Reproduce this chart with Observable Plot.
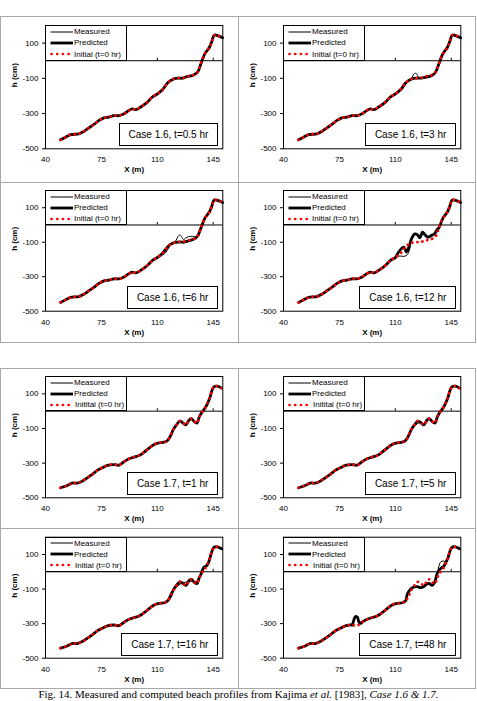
<!DOCTYPE html>
<html>
<head>
<meta charset="utf-8">
<script src="https://cdn.jsdelivr.net/npm/d3@7"></script>
<script src="https://cdn.jsdelivr.net/npm/@observablehq/plot@0.6"></script>
<style>
  html, body { margin: 0; padding: 0; width: 477px; height: 701px; overflow: hidden; background: #fff; }
  body { position: relative; font-family: "Liberation Sans", Arial, sans-serif; }
  .cell { position: absolute; border: 1px solid #a8a8a8; box-sizing: border-box; }
  .chart { position: absolute; }
  .chart svg { display: block; overflow: visible; }
  .legend { position: absolute; box-sizing: border-box; border: 1px solid #000; background: #fff;
            display: flex; flex-direction: column; font-family: "Liberation Sans", Arial, sans-serif;
            font-size: 8px; color: #000; }
  .legend .row { flex: 1; display: flex; align-items: center; white-space: nowrap; }
  .legend svg { display: block; flex: none; }
  .casebox { position: absolute; box-sizing: border-box; border: 1px solid #000; background: #fff;
             font-family: "Liberation Sans", Arial, sans-serif;
             font-size: 10px; color: #000; white-space: nowrap; padding: 0 9px; text-align: center; }
  .caption { position: absolute; left: 0; width: 477px; text-align: center;
             font-family: "Liberation Serif", "Times New Roman", serif; font-size: 11px; line-height: 13px; color: #000; white-space: nowrap; }
</style>
</head>
<body>
<script>
// ---------------- data ----------------
const xTicks = [40, 75, 110, 145];
const yTicks = [100, -100, -300, -500];
const xDomain = [40, 151];
const yDomain = [-500, 200];

const seriesNames = ["Measured", "Predicted"];
const initialName16 = "Initial (t=0 hr)";
const initialName17a = "Initital (t=0 hr)";
const initialName17b = "Initial (t=0 hr)";

// Initial profile, Case 1.6 (X in m, h in cm)
const init16X = [49.4,52.6,55.7,60.9,64.1,67.2,70.3,73.5,76.6,79.7,82.9,86.0,89.2,92.3,94.4,96.5,99.6,103.8,106.9,110.1,113.2,116.4,119.5,122.6,125.8,128.9,132.0,135.2,137.3,139.8,142.5,144.0,145.6,147.7,150.9];
const init16H = [-449,-434,-420,-415,-401,-381,-362,-339,-324,-320,-312,-312,-301,-282,-273,-278,-263,-235,-206,-188,-165,-127,-106,-99,-99,-89,-84,-65,-17,40,74,106,145,143,130];

// Initial profile, Case 1.7
const init17X = [49.4,53.6,56.7,59.9,63.0,66.1,69.3,72.4,75.6,78.7,82.9,86.0,89.2,92.3,95.4,98.6,101.7,104.9,108.0,111.1,114.3,116.4,118.4,119.9,122.0,124.1,126.2,127.9,130.0,131.4,133.1,134.8,136.2,137.9,140.0,141.5,142.9,144.2,145.6,147.7,150.2];
const init17H = [-442,-429,-415,-415,-404,-385,-365,-342,-327,-313,-308,-312,-292,-275,-265,-256,-237,-213,-192,-183,-179,-169,-140,-108,-79,-58,-69,-79,-50,-44,-60,-69,-35,-6,19,46,77,119,142,144,133];

const panelTitles = ["Case 1.6, t=0.5 hr","Case 1.6, t=3 hr","Case 1.6, t=6 hr","Case 1.6, t=12 hr",
                     "Case 1.7, t=1 hr","Case 1.7, t=5 hr","Case 1.7, t=16 hr","Case 1.7, t=48 hr"];
const panelCases = ["1.6","1.6","1.6","1.6","1.7","1.7","1.7","1.7"];
const panelInitialNames = [initialName16, initialName16, initialName16, initialName16,
                           initialName17a, initialName17a, initialName17b, initialName17b];

// Measured / predicted: read as identical to the initial profile except in these stretches [x, h]
const meas1 = [];
const pred1 = [];
const meas2 = [[[113.5,-170],[115.5,-148],[117.5,-120],[120.0,-103],[122.0,-72],[123.3,-74],[124.5,-94],[126.5,-97]]];
const pred2 = [[[127.5,-96],[129.5,-93],[131.5,-89],[133.5,-80]]];
const meas3 = [[[113.5,-172],[115.5,-157],[117.5,-126],[119.5,-108],[121.6,-91],[123.0,-66],[124.1,-58],[125.2,-68],[126.4,-85],[127.8,-76],[129.5,-68],[132.0,-66],[134.1,-70]]];
const pred3 = [[[126.5,-100],[129.0,-94],[131.0,-88],[133.3,-80]]];
const meas4 = [[[108.5,-196],[110.5,-183],[113.0,-180],[115.5,-182],[117.6,-172],[119.0,-140],[120.2,-79],[122.2,-52],[123.9,-58],[125.4,-75],[127.0,-42],[128.7,-58],[130.6,-71],[132.3,-62],[134.4,-52],[136.5,-23]]];
const pred4 = [[[111.4,-167],[113.5,-140],[115.3,-128],[117.0,-157],[118.5,-128],[120.2,-79],[122.2,-52],[123.9,-58],[125.4,-75],[127.0,-42],[128.7,-58],[130.6,-71],[132.3,-62],[134.4,-52],[136.5,-23]]];
const meas5 = [];
const pred5 = [];
const meas6 = [[[120.5,-100],[122.5,-82],[124.5,-68],[126.2,-60],[127.9,-72]]];
const pred6 = [];
const meas7 = [[[118.0,-130],[119.5,-108],[122.5,-84],[125.8,-64],[129.0,-58],[132.0,-54],[134.2,-58],[135.5,-42]],
               [[137.0,-22],[138.3,10],[139.3,28],[140.5,32],[141.8,48],[142.9,77]]];
const pred7 = [[[137.0,-22],[138.3,10],[139.3,28],[140.5,32],[141.8,48],[142.9,77]]];
const meas8 = [[[83.0,-310],[84.3,-270],[85.2,-256],[86.3,-262],[87.3,-292],[88.5,-298]],
               [[117.5,-132],[119.5,-104],[121.6,-92],[124.0,-88],[126.5,-88],[129.0,-80],[131.0,-72],[133.1,-74],[134.6,-60],[136.0,-20],[137.2,30],[138.5,58],[140.0,62],[141.5,60],[143.0,82],[144.2,119]]];
const pred8 = [[[83.0,-310],[84.3,-272],[85.2,-258],[86.3,-264],[87.3,-292],[88.5,-298]],
               [[117.5,-130],[119.5,-101],[121.6,-88],[123.7,-86],[125.8,-92],[127.9,-86],[129.3,-73],[131.0,-67],[133.1,-78],[134.6,-63],[136.2,-10],[138.3,18],[140.4,33],[142.5,71]]];

const measuredDev = [meas1, meas2, meas3, meas4, meas5, meas6, meas7, meas8];
const predictedDev = [pred1, pred2, pred3, pred4, pred5, pred6, pred7, pred8];

const captionParts = [
  {t: "Fig. 14. Measured and computed beach profiles from Kajima ", i: false},
  {t: "et al.", i: true},
  {t: " [1983], ", i: false},
  {t: "Case 1.6 & 1.7.", i: true}
];

// ---------------- layout ----------------
const FONT = '"Liberation Sans", Arial, sans-serif';
const rows = [
  {top: 16,  h: 166, pt: 9,   ph: 123.3},
  {top: 182, h: 160, pt: 8,   ph: 120.7},
  {top: 368, h: 160, pt: 8,   ph: 121.3},
  {top: 528, h: 160, pt: 8.7, ph: 121}
];
const cols = [{left: 0, w: 238}, {left: 238, w: 237}];
const PLOT_L = 45, PLOT_R = 222.3, SVG_W = 238;
const DOTS = "0.1,5";

function toRecords(xs, hs) { return xs.map((x, i) => ({x, h: hs[i]})); }
function splice(base, segments) {
  let out = base.slice();
  for (const seg of segments) {
    const lo = seg[0][0], hi = seg[seg.length - 1][0];
    out = [...out.filter(d => d.x < lo), ...seg.map(([x, h]) => ({x, h})), ...out.filter(d => d.x > hi)];
  }
  return out;
}

const init16 = toRecords(init16X, init16H);
const init17 = toRecords(init17X, init17H);

function el(tag, cls, style) {
  const e = document.createElement(tag);
  if (cls) e.className = cls;
  if (style) Object.assign(e.style, style);
  return e;
}

function sampleSvg(kind, gap) {
  const ns = "http://www.w3.org/2000/svg";
  const s = document.createElementNS(ns, "svg");
  s.setAttribute("width", 28 + gap);
  s.setAttribute("height", 8);
  const l = document.createElementNS(ns, "line");
  l.setAttribute("x1", kind === "init" ? 5.5 : 4.5);
  l.setAttribute("x2", kind === "init" ? 27 - gap * 0.2 : 27);
  l.setAttribute("y1", 4); l.setAttribute("y2", 4);
  if (kind === "meas") { l.setAttribute("stroke", "#000"); l.setAttribute("stroke-width", 1); }
  if (kind === "pred") { l.setAttribute("stroke", "#000"); l.setAttribute("stroke-width", 2.8); }
  if (kind === "init") {
    l.setAttribute("stroke", "#ff0000"); l.setAttribute("stroke-width", 2.7);
    l.setAttribute("stroke-dasharray", "0.1,5.6"); l.setAttribute("stroke-linecap", "round");
  }
  s.appendChild(l);
  return s;
}

for (let i = 0; i < 8; i++) {
  const row = rows[Math.floor(i / 2)], col = cols[i % 2];
  const base = panelCases[i] === "1.6" ? init16 : init17;
  const measured = splice(base, measuredDev[i]);
  const predicted = splice(base, predictedDev[i]);

  // frame of the panel cell
  const cell = el("div", "cell", {left: col.left + "px", top: row.top + "px", width: (col.w + 1) + "px", height: (row.h + 1) + "px"});
  document.body.appendChild(cell);

  const chart = Plot.plot({
    width: SVG_W, height: row.h,
    marginLeft: PLOT_L, marginRight: SVG_W - PLOT_R,
    marginTop: row.pt, marginBottom: row.h - row.pt - row.ph,
    style: {fontFamily: FONT, fontSize: "8px", color: "#000", background: "transparent", overflow: "visible"},
    x: {domain: xDomain},
    y: {domain: yDomain},
    marks: [
      Plot.ruleY([0], {stroke: "#000", strokeWidth: 1}),
      Plot.ruleX(xTicks.slice(1), {x: d => d, y1: 0, y2: 14, stroke: "#000"}),
      Plot.line(measured, {x: "x", y: "h", stroke: "#000", strokeWidth: 1, curve: "catmull-rom"}),
      Plot.line(predicted, {x: "x", y: "h", stroke: "#000", strokeWidth: 2.8, curve: "catmull-rom"}),
      Plot.line(base, {x: "x", y: "h", stroke: "#ff0000", strokeWidth: 2.8, strokeDasharray: DOTS, strokeLinecap: "round", curve: "catmull-rom"}),
      Plot.frame({stroke: "#000", strokeWidth: 1}),
      Plot.axisX(xTicks, {tickSize: 0, tickPadding: 8, label: null, fontSize: 8}),
      Plot.axisY(yTicks, {tickSize: 3, tickPadding: 4, label: null, fontSize: 8, tickFormat: d => String(d)}),
      Plot.text(["X (m)"], {text: d => d, frameAnchor: "bottom", dy: 23.5, fontWeight: "bold", fontSize: 8}),
      Plot.text(["h (cm)"], {text: d => d, frameAnchor: "left", dx: -31, rotate: -90, fontWeight: "bold", fontSize: 8})
    ]
  });
  const wrap = el("div", "chart", {left: col.left + "px", top: row.top + "px", width: SVG_W + "px", height: row.h + "px"});
  wrap.appendChild(chart);
  document.body.appendChild(wrap);

  // legend box (top-left of plot area, bottom edge on the h=0 line)
  const y0 = chart.scale("y").apply(0);
  const legend = el("div", "legend", {
    left: (col.left + PLOT_L) + "px", top: (row.top + row.pt) + "px",
    width: "82px", height: (y0 - row.pt + 0.5) + "px"
  });
  const gap = panelCases[i] === "1.7" ? 1 : 0;
  const entries = [["meas", seriesNames[0]], ["pred", seriesNames[1]], ["init", panelInitialNames[i]]];
  for (const [kind, label] of entries) {
    const r = el("div", "row");
    r.appendChild(sampleSvg(kind, kind === "init" ? gap : 0));
    const sp = el("span"); sp.textContent = label; r.appendChild(sp);
    legend.appendChild(r);
  }
  document.body.appendChild(legend);

  // case label box (bottom-right of plot area)
  const box = el("div", "casebox", {
    right: (477 - (col.left + PLOT_R - 4)) + "px",
    top: (row.top + row.pt + row.ph - 2 - 23) + "px",
    height: "23px", lineHeight: "21px"
  });
  box.textContent = panelTitles[i];
  document.body.appendChild(box);
}

// caption
const cap = el("div", "caption", {top: "688px"});
for (const p of captionParts) {
  const s = el("span", null, p.i ? {fontStyle: "italic"} : null);
  s.textContent = p.t;
  cap.appendChild(s);
}
document.body.appendChild(cap);
</script>
</body>
</html>
